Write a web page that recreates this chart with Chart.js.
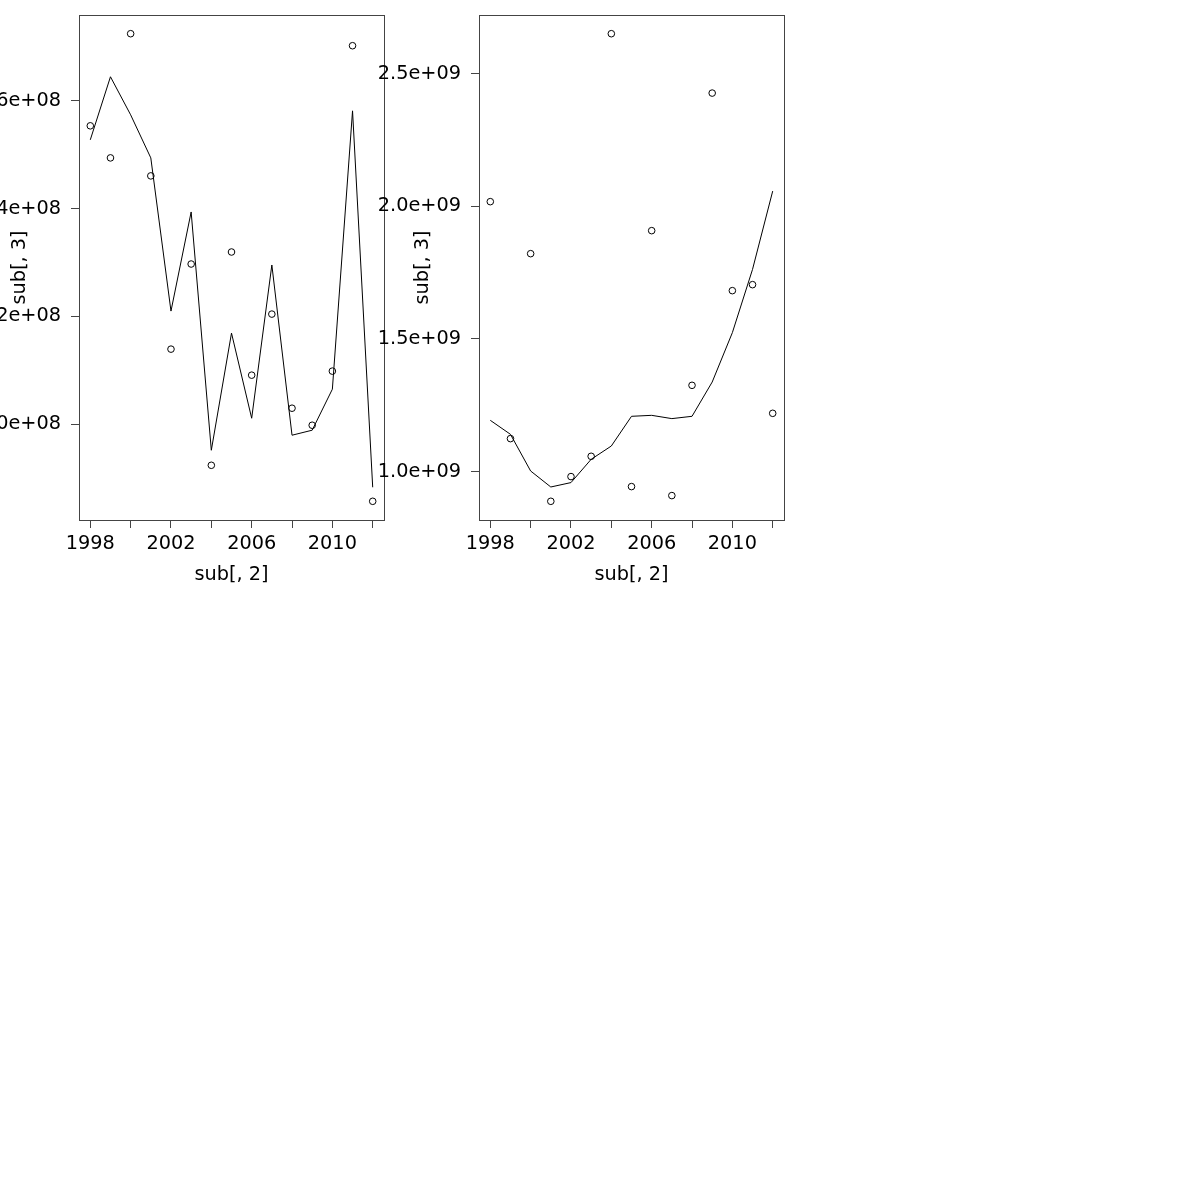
<!DOCTYPE html>
<html>
<head>
<meta charset="utf-8">
<script src="https://cdn.jsdelivr.net/npm/chart.js@4"></script>
<style>
  body { margin: 0; background: #fff; width: 1200px; height: 1200px; overflow: hidden; position: relative; }
  .panel { position: absolute; top: 0; width: 440px; height: 600px; }
  #leftWrap { left: -40px; }
  #rightWrap { left: 360px; }
</style>
</head>
<body>
<div class="panel" id="leftWrap"><canvas id="leftChart"></canvas></div>
<div class="panel" id="rightWrap"><canvas id="rightChart"></canvas></div>
<script>
const years = [1998, 1999, 2000, 2001, 2002, 2003, 2004, 2005, 2006, 2007, 2008, 2009, 2010, 2011, 2012];

// panel izquierdo: puntos y linea
const leftPoints = [1.5536e8, 1.4941e8, 1.7245e8, 1.4607e8, 1.1393e8, 1.2972e8, 0.9238e8, 1.3195e8,
                    1.0910e8, 1.2043e8, 1.0297e8, 0.9981e8, 1.0985e8, 1.7022e8, 0.8570e8];
const leftLine = [1.5276e8, 1.6446e8, 1.5740e8, 1.4941e8, 1.2099e8, 1.3938e8, 0.9517e8, 1.1690e8,
                  1.0111e8, 1.2954e8, 0.9796e8, 0.9889e8, 1.0650e8, 1.5814e8, 0.8830e8];

// panel derecho
const rightPoints = [2.0174e9, 1.1243e9, 1.8214e9, 0.8881e9, 0.9812e9, 1.0577e9, 2.6504e9, 0.9435e9,
                     1.9081e9, 0.9096e9, 1.3252e9, 2.4266e9, 1.6820e9, 1.7046e9, 1.2197e9];
const rightLine = [1.1933e9, 1.1405e9, 1.0023e9, 0.9420e9, 0.9586e9, 1.0463e9, 1.0965e9, 1.2084e9,
                   1.2121e9, 1.1997e9, 1.2084e9, 1.3376e9, 1.5237e9, 1.7623e9, 2.0573e9];

const xTicks = [1998, 2000, 2002, 2004, 2006, 2008, 2010, 2012];
const xTickLabels = ['1998', '', '2002', '', '2006', '', '2010', ''];
const leftYTicks = [1.0e8, 1.2e8, 1.4e8, 1.6e8];
const leftYTickLabels = ['1.0e+08', '1.2e+08', '1.4e+08', '1.6e+08'];
const rightYTicks = [1.0e9, 1.5e9, 2.0e9, 2.5e9];
const rightYTickLabels = ['1.0e+09', '1.5e+09', '2.0e+09', '2.5e+09'];

const xLabel = 'sub[, 2]';
const yLabel = 'sub[, 3]';

const FONT = { family: 'DejaVu Sans, sans-serif', size: 19.3 };

// rango tipo R (4% extra)
function rRange(vals) {
    const mn = Math.min(...vals), mx = Math.max(...vals);
    const d = (mx - mn) * 0.04;
    return [mn - d, mx + d];
}

const boxPlugin = {
    id: 'box',
    afterDraw(chart) {
        const a = chart.chartArea;
        const ctx = chart.ctx;
        ctx.save();
        ctx.strokeStyle = '#444';
        ctx.lineWidth = 1;
        ctx.strokeRect(Math.round(a.left) + 0.5, Math.round(a.top) + 0.5,
                       Math.round(a.right - a.left), Math.round(a.bottom - a.top));
        ctx.restore();
    }
};

function makePanel(canvasId, points, line, yTicks, yTickLabels, titlePad) {
    const xr = rRange(years);
    const yr = rRange(points.concat(line));
    const ctx = document.getElementById(canvasId).getContext('2d');
    return new Chart(ctx, {
        type: 'line',
        data: {
            datasets: [
                {
                    data: years.map((y, i) => ({ x: y, y: line[i] })),
                    borderColor: '#000',
                    borderWidth: 1,
                    pointRadius: 0,
                    fill: false,
                    tension: 0
                },
                {
                    data: years.map((y, i) => ({ x: y, y: points[i] })),
                    showLine: false,
                    borderColor: '#000',
                    backgroundColor: 'rgba(0,0,0,0)',
                    pointRadius: 3.3,
                    pointBorderWidth: 1
                }
            ]
        },
        options: {
            responsive: true,
            maintainAspectRatio: false,
            animation: false,
            layout: { padding: { left: 0, right: 16, top: 15, bottom: 0 } },
            plugins: { legend: { display: false }, tooltip: { enabled: false } },
            scales: {
                x: {
                    type: 'linear',
                    min: xr[0],
                    max: xr[1],
                    afterBuildTicks: (s) => { s.ticks = xTicks.map(v => ({ value: v })); },
                    afterFit: (s) => { s.height = 80; s.paddingLeft = 0; s.paddingRight = 0; },
                    grid: { drawOnChartArea: false, tickLength: 8, color: '#444' },
                    border: { display: false },
                    ticks: {
                        autoSkip: false,
                        maxRotation: 0,
                        color: '#000',
                        font: FONT,
                        padding: 4,
                        callback: (v) => xTickLabels[xTicks.indexOf(v)] ?? ''
                    },
                    title: { display: true, text: xLabel, color: '#000', font: FONT, padding: { top: 0, bottom: 13.4 } }
                },
                y: {
                    type: 'linear',
                    min: yr[0],
                    max: yr[1],
                    afterBuildTicks: (s) => { s.ticks = yTicks.map(v => ({ value: v })); },
                    afterFit: (s) => { s.width = 119; s.paddingTop = 0; s.paddingBottom = 0; },
                    grid: { drawOnChartArea: false, tickLength: 8, color: '#444' },
                    border: { display: false },
                    ticks: {
                        autoSkip: false,
                        color: '#000',
                        font: FONT,
                        padding: 10,
                        callback: (v) => yTickLabels[yTicks.indexOf(v)] ?? ''
                    },
                    title: { display: true, text: yLabel, color: '#000', font: FONT, padding: { top: titlePad, bottom: 0 } }
                }
            }
        },
        plugins: [boxPlugin]
    });
}

makePanel('leftChart', leftPoints, leftLine, leftYTicks, leftYTickLabels, 48.4);
makePanel('rightChart', rightPoints, rightLine, rightYTicks, rightYTickLabels, 51.4);
</script>
</body>
</html>
